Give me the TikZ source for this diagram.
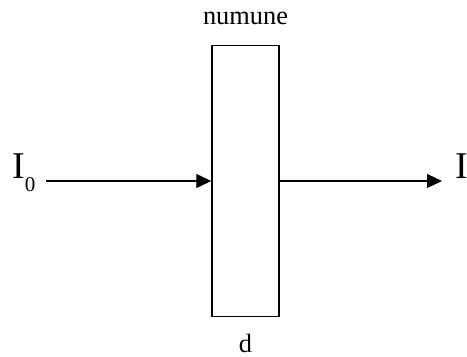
\documentclass[tikz,border=0pt]{standalone}
\usepackage{fontspec}
\setmainfont{Liberation Serif}
\usetikzlibrary{arrows.meta,positioning}
\tikzset{
  sample/.style={draw=black, line width=0.8pt, fill=white, inner sep=0pt,
    minimum width=1.34cm, minimum height=5.42cm},
  lbl/.style={inner sep=0pt, font=\fontsize{15}{18}\selectfont},
  beam/.style={inner sep=0pt, font=\fontsize{21.5}{24}\selectfont},
  arr/.style={-{Triangle[length=3mm,width=2.8mm]}, line width=0.6pt}
}
\begin{document}
\begin{tikzpicture}[x=0.02cm, y=-0.02cm]
  \useasboundingbox (0,0) rectangle (467,356);
  \node[sample] (sample) at (245.5,181) {};
  \node[lbl, above=0.4cm of sample] (name) {numune};
  \node[lbl, below=0.34cm of sample] (thick) {d};
  \node[beam, anchor=base west] (Iin) at (12,178) {I\raisebox{-7.4pt}{\fontsize{12}{14}\selectfont 0}};
  \node[beam, anchor=base west] (Iout) at (455,178) {I};

  \draw[arr] ([xshift=0.2cm]Iin.east |- sample.west) -- (sample.west);
  \draw[arr] (sample.east) -- ([xshift=-0.26cm]Iout.west |- sample.east);
\end{tikzpicture}
\end{document}
